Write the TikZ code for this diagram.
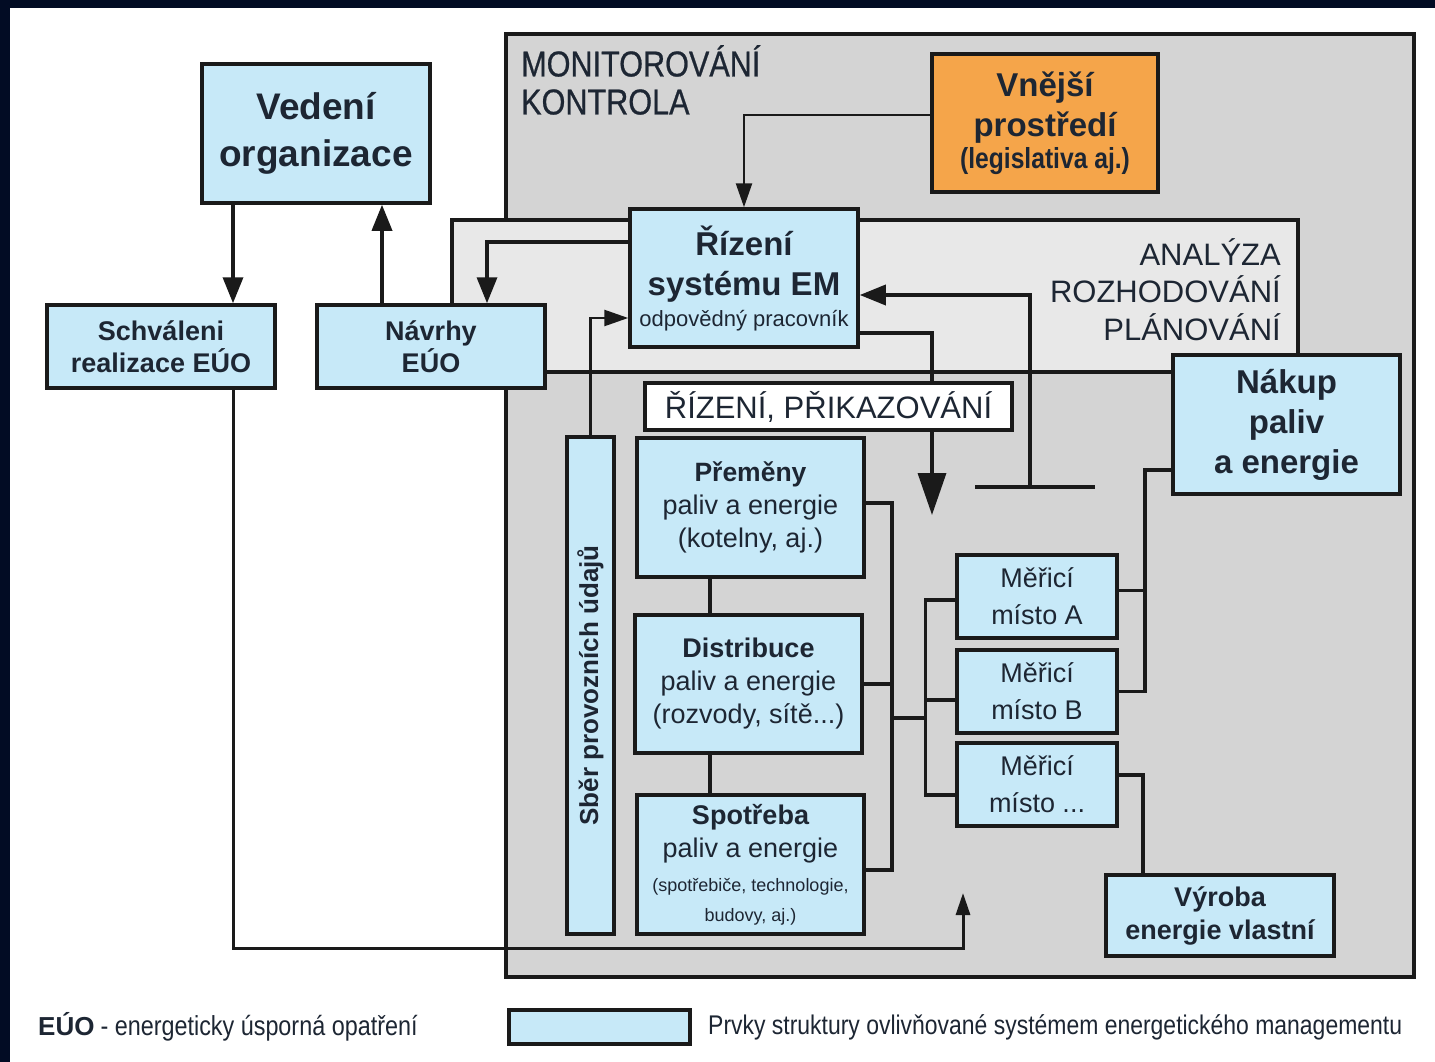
\documentclass[tikz,border=0pt]{standalone}
\usepackage{fontspec}
\setmainfont{Liberation Sans}
\newfontfamily\narrowfont[FakeStretch=0.85]{Liberation Sans}
\newfontfamily\narrowboldish[FakeStretch=0.85,FakeBold=0.6]{Liberation Sans}
\usetikzlibrary{arrows.meta,calc}
\definecolor{navy}{HTML}{020C24}
\definecolor{boxblue}{HTML}{C7E9F8}
\definecolor{outergrey}{HTML}{D4D4D4}
\definecolor{innergrey}{HTML}{E8E8E8}
\definecolor{orng}{HTML}{F5A54A}
\definecolor{ink}{HTML}{1A1A1A}
\definecolor{txt}{HTML}{1D2633}
\newcommand\fs[2]{\fontsize{#1}{#2}\selectfont}
\begin{document}
\begin{tikzpicture}[x=1pt,y=-1pt,
  box/.style={draw=ink, line width=3.5pt, fill=boxblue, align=center, inner sep=0pt, text=txt},
  conn/.style={draw=ink, line width=3.5pt},
  thinconn/.style={draw=ink, line width=2.5pt},
  arr/.style={conn, -{Triangle[width=20pt,length=26pt]}},
  thinarr/.style={thinconn, -{Triangle[width=16pt,length=24pt]}},
  bigarr/.style={conn, -{Triangle[width=28pt,length=42pt]}},
  smallarr/.style={thinconn, -{Triangle[width=14pt,length=22pt]}},
  lbl/.style={text=txt, align=left, inner sep=0pt}
]
\useasboundingbox (0,0) rectangle (1435,1062);
\fill[white] (0,0) rectangle (1435,1062);
\fill[navy] (0,0) rectangle (1435,8);
\fill[navy] (0,0) rectangle (10,1062);

% background frames
\draw[draw=ink, line width=4.5pt, fill=outergrey] (506,34) rectangle (1414,977);
\draw[draw=ink, line width=4.5pt, fill=innergrey] (452,220) rectangle (1298,372);

% frame labels
\node[lbl, anchor=north west, font=\narrowboldish\fs{36}{38}] (mon) at (521,45) {MONITOROVÁNÍ\\KONTROLA};
\node[lbl, anchor=north east, align=right, font=\fs{31}{37.5}] (ana) at (1281,238) {ANALÝZA\\ROZHODOVÁNÍ\\PLÁNOVÁNÍ};

% boxes
\node[box, minimum width=228pt, minimum height=139pt, font=\bfseries\fs{37}{47}] (ved) at (316,133.5) {Vedení\\organizace};
\node[box, minimum width=228pt, minimum height=83pt, font=\bfseries\fs{27}{32}] (schv) at (161,346.5) {Schváleni\\realizace EÚO};
\node[box, minimum width=228pt, minimum height=83pt, font=\bfseries\fs{27}{32}] (nav) at (431,346.5) {Návrhy\\EÚO};
\node[box, fill=orng, minimum width=226pt, minimum height=138pt, font=\bfseries\fs{33}{40}] (vne) at (1045,123) {Vnější\\prostředí\\[-8pt]{\narrowfont\bfseries\fs{29}{32}(legislativa aj.)}};
\node[box, minimum width=228pt, minimum height=138pt, font=\bfseries\fs{33}{40}] (riz) at (744,278) {Řízení\\systému EM\\[-9pt]{\mdseries\fs{22}{31}odpovědný pracovník}};
\node[box, minimum width=227pt, minimum height=139pt, font=\bfseries\fs{33}{40}] (nak) at (1286.5,424.5) {Nákup\\paliv\\a energie};
\node[box, minimum width=47pt, minimum height=497pt] (sber) at (590.5,685.5) {};
\node[rotate=90, text=txt, font=\bfseries\fs{26}{30}] at (sber.center) {Sběr provozních údajů};

\node[box, minimum width=227pt, minimum height=139pt, font=\fs{27}{33}] (pre) at (750.5,507.5) {{\bfseries\fs{26.5}{33}Přeměny}\\paliv a energie\\(kotelny, aj.)};
\node[box, minimum width=227pt, minimum height=138pt, font=\fs{27}{33}] (dis) at (748.5,684) {{\bfseries Distribuce}\\paliv a energie\\(rozvody, sítě...)};
\node[box, minimum width=227pt, minimum height=139pt, font=\fs{27}{33}] (spo) at (750.5,864.5) {{\bfseries Spotřeba}\\paliv a energie\\[1pt]{\fs{18}{30}(spotřebiče, technologie,}\\[-3pt]{\fs{18}{30}budovy, aj.)}};

\node[box, minimum width=160pt, minimum height=83pt, font=\fs{27}{37}] (ma) at (1037,596.5) {Měřicí\\místo A};
\node[box, minimum width=160pt, minimum height=83pt, font=\fs{27}{37}] (mb) at (1037,691.5) {Měřicí\\místo B};
\node[box, minimum width=160pt, minimum height=83pt, font=\fs{27}{37}] (mc) at (1037,784.5) {Měřicí\\místo ...};
\node[box, minimum width=228pt, minimum height=81pt, font=\bfseries\fs{27}{33}] (vyr) at (1220,915.5) {Výroba\\energie vlastní};

% free ends
\coordinate (rtip) at (932,515);
\coordinate (gl) at (975,487);
\coordinate (gr) at (1095,487);
\coordinate (gm) at (1030,487);
\coordinate (btip) at (963,893);
\coordinate (j1) at (890,718);
\coordinate (j2) at (927,718);

% connectors
\draw[arr] ([xshift=-83pt]ved.south) -- ([xshift=-83pt]ved.south |- schv.north);
\draw[arr] ([xshift=-49pt]nav.north) -- ([xshift=-49pt]nav.north |- ved.south);
\draw[thinarr] ([yshift=8pt]vne.west) -| (riz.north);
\draw[arr] ([yshift=36pt]riz.west) -| ([xshift=56pt]nav.north);
\draw[thinarr] (sber.north) |- ([yshift=-40pt]riz.west);
\draw[bigarr] ([yshift=-55pt]riz.east) -| (rtip);
\draw[conn] (gl) -- (gr);
\draw[arr] (gm) |- ([yshift=-17pt]riz.east);

\draw[conn] ([yshift=-45.5pt]nak.west) -| ([xshift=26pt]mb.east) -- (mb.east);
\draw[conn] ([yshift=6pt]ma.east) -- ++(26,0);
\draw[conn] ([yshift=9.5pt]mc.east) -| ([xshift=-77pt]vyr.north);

\draw[conn] ([yshift=-3.5pt]ma.west) -- ++(-30,0) |- ([yshift=-10.5pt]mc.west);
\draw[conn] ([yshift=-8.5pt]mb.west) -- ++(-30,0);
\draw[conn] ([yshift=4.5pt]pre.east) -- ++(26,0) |- ([yshift=-5.5pt]spo.east);
\draw[conn] (dis.east) -- ++(28,0);
\draw[conn] (j1) -- (j2);

\draw[conn] ([xshift=-40.5pt]pre.south) -- ([xshift=-40.5pt]pre.south |- dis.north);
\draw[conn] ([xshift=-38.5pt]dis.south) -- ([xshift=-38.5pt]dis.south |- spo.north);

\draw[smallarr, line width=3pt] ([xshift=72pt]schv.south) |- ($(btip)+(0,55)$) -- (btip);

% label over the thick arrow
\node[box, fill=white, minimum width=367pt, minimum height=47pt, font=\fs{31}{35}] (cmd) at (828.5,406.5) {ŘÍZENÍ, PŘIKAZOVÁNÍ};

% legend
\node[lbl, anchor=west] (legt1) at (38,1027) {{\bfseries\fs{26}{30}EÚO}\hspace{6pt}{\narrowfont\fs{27.5}{30}- energeticky úsporná opatření}};
\node[box, minimum width=181pt, minimum height=34pt] (leg) at (599.5,1027) {};
\node[lbl, anchor=west, font=\narrowfont\fs{27}{30}] (legt2) at (708,1027) {Prvky struktury ovlivňované systémem energetického managementu};
\end{tikzpicture}
\end{document}
